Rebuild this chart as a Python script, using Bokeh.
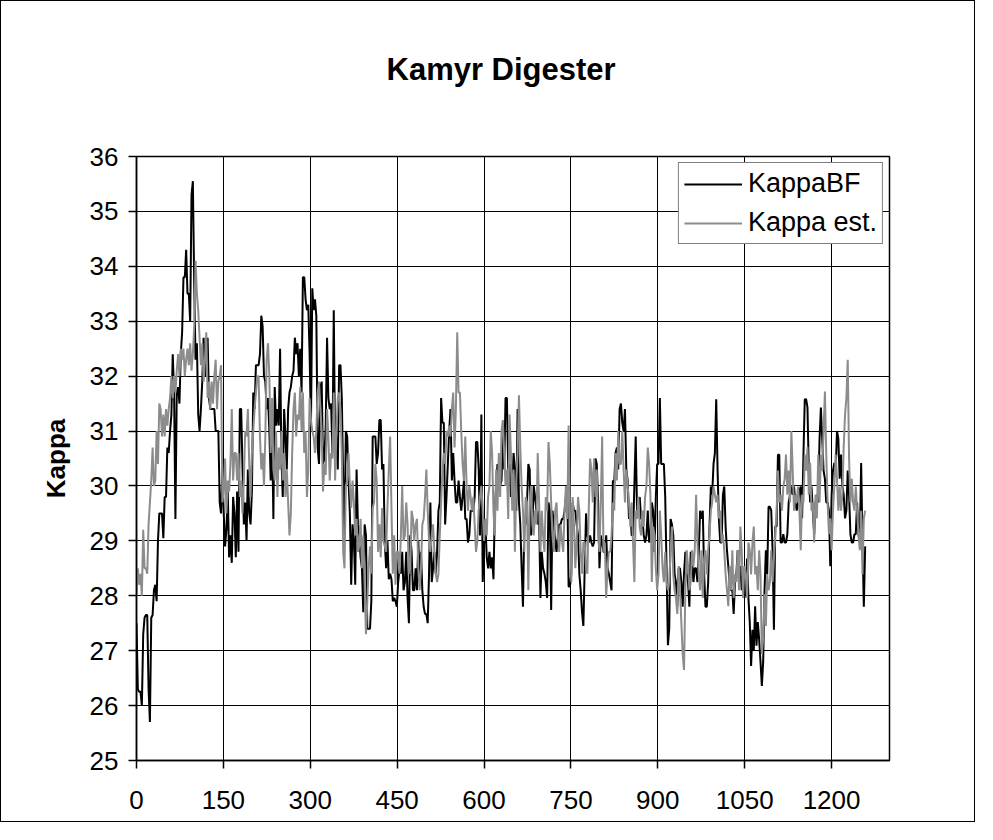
import numpy as np
from bokeh.plotting import figure
from bokeh.models import FixedTicker, Legend, LegendItem, Range1d, Title
from bokeh.embed import file_html
from bokeh.resources import INLINE

title_text = "Kamyr Digester"
y_label = "Kappa"
series_names = ["KappaBF", "Kappa est."]
x_ticks = [0, 150, 300, 450, 600, 750, 900, 1050, 1200]
y_ticks = [25, 26, 27, 28, 29, 30, 31, 32, 33, 34, 35, 36]
x_max = 1300
y_min, y_max = 25, 36
last_sample = 1258

kappa_bf = [
    # 0 - 147
    27.5, 26.3, 26.25, 26.25, 26.0, 27.3, 27.6, 27.65, 27.65, 26.3,
    25.7, 27.6, 27.65, 28.1, 28.2, 27.9, 29.0, 29.5, 29.5, 29.5,
    29.05, 29.8, 29.8, 30.7, 30.6, 31.0, 31.3, 32.4, 31.7, 29.4,
    31.7, 31.8, 31.5, 32.4, 32.8, 33.8, 33.8, 34.3, 33.5, 33.5,
    33.0, 35.3, 35.55, 33.7, 32.3, 32.6, 31.3, 31.0, 31.4, 31.9,
    32.7, 32.0, 32.3, 32.7, 31.6, 31.4, 31.4, 31.4, 31.4, 31.0,
    31.0, 31.0, 29.7, 29.5,
    # 150 - 300
    30.3, 29.5, 28.9, 29.2, 29.9, 28.7, 29.1, 28.6, 29.8, 29.5,
    28.7, 29.9, 28.8, 31.4, 31.4, 30.3, 29.3, 29.7, 29.0, 30.3,
    29.5, 29.3, 29.9, 31.7, 31.4, 32.2, 32.2, 32.2, 32.4, 33.1,
    32.9, 32.0, 31.9, 31.4, 31.6, 31.0, 30.1, 31.1, 29.4, 31.8,
    31.1, 31.4, 31.1, 32.5, 30.5, 29.8, 31.4, 30.9, 30.3, 31.4,
    31.7, 31.8, 32.0, 32.1, 32.7, 32.4, 32.6, 32.0, 32.5, 31.7,
    33.8, 33.8, 33.4, 33.2, 33.3, 32.4, 31.1,
    # 300 - 450
    33.6, 33.2, 33.4, 33.1, 30.7, 30.4, 31.8, 31.9, 30.4, 30.5,
    31.1, 32.7, 31.6, 31.4, 31.5, 30.6, 33.2, 30.6, 30.9, 30.3,
    32.2, 32.2, 31.6, 30.1, 29.1, 31.0, 30.9, 30.1, 29.5, 28.2,
    29.3, 29.0, 28.2, 30.3, 29.3, 29.1, 28.7, 28.5, 27.7, 29.3,
    29.1, 27.4, 27.4, 27.4, 27.9, 30.9, 30.9, 30.9, 30.4, 30.6,
    31.2, 31.2, 30.3, 30.4, 29.0, 28.5, 29.0, 28.3, 28.4, 28.3,
    27.9, 27.96, 27.9, 27.8,
    # 454 - 609
    28.25, 28.5, 28.4, 28.8, 28.1, 28.25, 28.8, 27.96, 27.5, 29.1,
    28.8, 28.1, 28.1, 28.5, 28.1, 29.0, 28.25, 28.8, 28.1, 27.8,
    27.67, 27.67, 27.5, 28.4, 29.7, 28.25, 28.5, 28.8, 28.4, 28.8,
    29.55, 29.7, 31.6, 31.15, 31.15, 29.3, 29.8, 30.4, 31.0, 31.4,
    30.1, 30.6, 30.1, 29.7, 29.7, 30.1, 29.8, 29.55, 29.8, 30.1,
    29.4, 29.4, 28.97, 29.1, 29.55, 29.55, 29.55, 29.8, 30.8, 30.8,
    30.3, 29.1, 31.3, 28.25, 28.97, 29.3, 28.7, 28.5,
    # 611 - 763
    28.8, 28.5, 28.7, 28.3, 29.55, 30.0, 30.4, 30.3, 30.0, 30.1,
    30.9, 30.3, 31.6, 31.6, 30.3, 30.4, 29.8, 30.0, 30.6, 30.3,
    29.55, 31.4, 29.7, 29.3, 28.5, 27.8, 29.3, 29.3, 29.7, 30.4,
    30.3, 29.1, 29.3, 30.0, 29.8, 29.55, 29.3, 29.55, 27.96, 28.8,
    28.5, 28.4, 28.25, 27.96, 29.7, 29.55, 27.74, 29.55, 29.3, 29.0,
    28.8, 29.1, 29.3, 29.3, 29.4, 29.4, 29.55, 29.8, 30.0, 28.17,
    28.17, 28.4, 29.7, 29.55, 29.55, 29.3, 29.1,
    # 767 - 922
    28.4, 28.1, 27.7, 27.45, 28.5, 29.5, 29.1, 28.97, 29.1, 28.97,
    28.9, 28.97, 30.5, 30.4, 29.7, 28.5, 29.1, 28.97, 28.8, 28.8,
    29.1, 28.5, 28.4, 28.25, 28.1, 30.1, 30.06, 30.6, 30.7, 30.3,
    31.4, 31.5, 31.15, 31.0, 31.4, 30.3, 30.1, 29.4, 29.55, 29.1,
    29.1, 30.0, 30.9, 29.55, 29.7, 29.8, 29.4, 29.4, 29.1, 28.97,
    29.1, 29.55, 28.97, 29.1, 29.7, 29.55, 28.8, 29.8, 30.4, 30.4,
    31.6, 30.4, 30.4, 30.4, 29.8, 28.5, 27.1, 27.4,
    # 922 - 1076
    29.4, 29.3, 29.1, 28.4, 28.25, 27.8, 28.5, 28.5, 28.25, 27.8,
    28.4, 28.8, 28.4, 28.25, 27.8, 28.8, 28.7, 28.25, 28.5, 28.5,
    28.25, 28.8, 29.55, 29.4, 29.55, 28.4, 27.8, 27.8, 28.25, 29.26,
    29.99, 29.84, 30.4, 30.6, 31.58, 30.3, 29.4, 28.97, 28.97, 29.84,
    29.99, 29.26, 28.83, 28.54, 28.25, 28.1, 28.1, 27.67, 28.25, 28.39,
    28.83, 28.39, 28.54, 28.1, 28.25, 27.96, 28.1, 28.68, 27.96, 27.52,
    26.72, 27.38, 27.01, 27.81, 27.09, 27.52, 27.2, 26.8,
    # 1081 - 1258
    26.36, 26.8, 28.1, 28.83, 28.39, 29.62, 29.62, 29.55, 28.83, 27.38,
    29.26, 29.26, 30.57, 30.57, 28.97, 28.97, 29.12, 28.97, 28.97, 29.12,
    29.7, 29.84, 29.99, 29.84, 29.99, 29.7, 29.55, 29.7, 29.91, 29.99,
    29.41, 30.57, 31.58, 31.58, 31.43, 30.28, 29.7, 29.99, 29.55, 29.12,
    29.7, 29.84, 29.7, 30.86, 31.43, 30.86, 30.28, 30.13, 29.7, 29.7,
    29.55, 28.54, 29.84, 30.28, 30.42, 30.28, 31.0, 30.86, 30.13, 30.57,
    29.99, 29.84, 29.41, 29.55, 30.28, 29.84, 29.12, 28.97, 28.97, 29.12,
    29.12, 29.7, 29.12, 28.97, 30.42, 29.0, 27.8, 28.9,
]

kappa_est = [
    # 0 - 147
    28.0, 28.5, 28.2, 28.4, 28.0, 29.2, 28.5, 28.5, 28.4, 29.3,
    29.7, 30.1, 30.7, 30.0, 30.1, 31.0, 30.4, 31.5, 31.4, 30.9,
    31.3, 30.9, 31.4, 31.1, 31.4, 31.6, 32.0, 31.6, 32.0, 31.7,
    32.1, 32.4, 32.0, 32.5, 32.3, 32.5, 32.0, 32.3, 32.5, 32.2,
    32.6, 32.1, 32.4, 32.9, 34.1, 33.5, 33.2, 32.7, 32.2, 32.6,
    31.9, 32.3, 32.8, 31.6, 31.9, 31.4, 31.9, 31.5, 32.0, 32.3,
    31.4, 31.9, 32.0, 32.2,
    # 150 - 300
    29.7, 29.9, 30.5, 29.5, 30.1, 29.9, 30.4, 31.4, 30.1, 30.6,
    30.6, 30.1, 30.6, 29.8, 30.1, 29.5, 30.1, 31.0, 30.9, 31.4,
    30.4, 29.8, 30.6, 31.0, 31.4, 31.7, 32.0, 32.0, 30.9, 30.3,
    30.6, 30.0, 30.9, 32.3, 32.6, 32.0, 30.6, 31.6, 30.3, 30.1,
    31.0, 29.8, 30.7, 30.3, 31.0, 30.1, 30.6, 29.8, 30.3, 29.7,
    29.1, 29.5, 30.6, 31.4, 31.7, 30.9, 31.3, 31.2, 31.8, 31.0,
    31.7, 30.6, 31.0, 29.8, 30.3, 31.6, 31.2,
    # 300 - 450
    31.0, 30.9, 30.6, 31.0, 31.7, 31.9, 31.4, 31.0, 29.9, 30.4,
    30.2, 31.4, 30.9, 30.1, 30.6, 30.5, 31.7, 30.1, 31.0, 31.6,
    31.7, 31.4, 30.6, 28.8, 28.5, 30.0, 30.1, 30.6, 30.0, 29.6,
    30.1, 29.7, 29.1, 29.4, 28.8, 28.9, 29.4, 28.5, 29.1, 28.2,
    27.3, 27.9, 28.5, 28.9, 28.4, 29.6, 29.7, 30.4, 30.1, 28.8,
    29.3, 28.7, 29.6, 29.0, 28.9, 28.8, 29.6, 30.3, 30.9, 29.6,
    28.4, 29.1, 28.2, 28.8,
    # 454 - 609
    28.8, 28.4, 29.1, 30.0, 29.0, 29.1, 29.7, 29.3, 28.4, 28.5,
    29.55, 29.4, 29.0, 29.3, 29.4, 28.5, 28.1, 28.5, 29.3, 29.4,
    29.8, 30.3, 29.55, 29.0, 28.8, 29.1, 29.3, 28.8, 28.4, 28.25,
    28.4, 29.1, 29.7, 30.3, 30.6, 30.4, 31.0, 30.9, 31.1, 30.9,
    31.4, 31.7, 30.7, 31.4, 32.8, 31.7, 31.7, 31.0, 30.4, 30.1,
    30.9, 30.0, 29.55, 30.0, 29.8, 29.55, 29.8, 29.3, 28.8, 29.0,
    29.55, 29.8, 30.0, 29.55, 29.0, 29.4, 29.1, 29.8,
    # 611 - 763
    30.0, 31.0, 30.6, 29.55, 29.1, 30.3, 29.55, 30.6, 29.8, 31.0,
    31.2, 30.6, 30.0, 30.3, 29.4, 31.3, 30.6, 29.55, 30.3, 28.8,
    30.1, 30.6, 31.65, 30.7, 30.0, 29.55, 28.8, 29.8, 29.7, 28.1,
    29.7, 30.0, 29.3, 29.1, 29.55, 29.3, 30.6, 29.7, 28.8, 29.55,
    29.1, 28.8, 29.8, 29.55, 30.8, 30.4, 29.7, 29.1, 28.8, 29.55,
    29.7, 29.1, 28.8, 29.3, 29.0, 28.8, 29.55, 30.0, 29.4, 31.1,
    29.55, 28.25, 29.8, 29.3, 28.5, 28.97, 29.8,
    # 767 - 922
    29.55, 28.8, 28.4, 28.97, 28.97, 28.5, 28.4, 29.55, 30.5, 30.3,
    29.7, 30.5, 29.8, 30.3, 29.1, 28.8, 29.7, 30.9, 28.8, 28.97,
    27.96, 28.5, 28.8, 28.8, 29.1, 29.7, 29.55, 30.6, 30.1, 31.0,
    30.4, 30.4, 31.0, 30.3, 29.7, 30.3, 30.0, 29.7, 29.26, 29.7,
    28.97, 28.25, 29.55, 29.4, 29.8, 29.26, 29.1, 29.55, 29.26, 29.8,
    30.0, 30.7, 30.4, 29.8, 28.25, 29.26, 29.1, 28.5, 28.1, 28.4,
    29.55, 29.1, 28.5, 28.25, 28.8, 28.25, 28.1, 28.25,
    # 922 - 1076
    28.83, 29.26, 28.39, 28.1, 27.96, 27.67, 28.54, 28.1, 27.52, 26.94,
    26.65, 28.1, 28.83, 28.54, 28.1, 28.25, 28.83, 28.54, 28.83, 29.84,
    28.97, 28.39, 28.1, 28.83, 27.96, 28.68, 28.83, 28.39, 28.83, 29.12,
    29.55, 29.7, 29.99, 29.84, 29.7, 29.84, 29.41, 29.55, 28.97, 29.12,
    28.83, 28.39, 28.1, 27.81, 28.54, 28.1, 28.83, 27.96, 28.39, 28.25,
    28.83, 28.1, 29.26, 28.83, 27.96, 28.54, 28.39, 27.96, 28.97, 28.83,
    28.39, 28.97, 29.26, 28.39, 28.54, 28.1, 28.83, 28.39,
    # 1081 - 1258
    26.94, 27.23, 28.03, 27.45, 28.39, 28.1, 28.25, 28.83, 28.25, 28.68,
    29.12, 29.55, 30.28, 29.7, 29.84, 29.55, 29.99, 30.13, 30.57, 29.84,
    30.28, 29.7, 31.0, 30.28, 29.55, 29.84, 29.7, 29.99, 29.55, 28.83,
    29.84, 29.7, 30.57, 30.28, 30.71, 29.84, 30.42, 29.55, 29.7, 28.97,
    29.84, 29.41, 30.57, 29.7, 30.57, 30.28, 31.0, 31.72, 30.57, 29.7,
    29.12, 29.41, 28.83, 29.55, 29.99, 30.57, 30.13, 29.55, 29.99, 29.55,
    29.84, 30.71, 31.3, 31.6, 32.3, 30.5, 29.7, 30.13, 29.7, 29.55,
    29.99, 29.55, 29.12, 28.83, 29.55, 28.39, 29.41, 29.55,
]

# sample index of each reading (evenly spaced samples from 0 to the last one)
t_bf = np.linspace(0, last_sample, len(kappa_bf))
t_est = np.linspace(0, last_sample, len(kappa_est))

FONT = "Liberation Sans"

p = figure(width=975, height=822,
           x_range=Range1d(0, x_max), y_range=Range1d(y_min, y_max),
           output_backend="svg", toolbar_location=None, title_location=None,
           min_border_left=135, min_border_right=87,
           min_border_top=155, min_border_bottom=63,
           background_fill_color="white", border_fill_color="white")
p.styles = {"border": "1px solid black"}

# blank spacer between the frame and the title, then the title itself
spacer = Title(text=" ", text_font=FONT, text_font_size="48px")
p.add_layout(spacer, "above")
main_title = Title(text=title_text, text_font=FONT, text_font_size="31px",
                   text_font_style="bold", text_color="black",
                   align="left", offset=250)
p.add_layout(main_title, "above")

p.outline_line_color = "black"
p.outline_line_width = 1.5
p.outline_line_alpha = 1

p.xaxis.ticker = FixedTicker(ticks=x_ticks)
p.yaxis.ticker = FixedTicker(ticks=y_ticks)
for ax in (p.xaxis[0], p.yaxis[0]):
    ax.axis_line_color = "black"
    ax.axis_line_width = 1.5
    ax.major_tick_line_color = "black"
    ax.major_tick_line_width = 1.5
    ax.major_tick_in = 0
    ax.major_tick_out = 8
    ax.minor_tick_line_color = None
    ax.major_label_text_font = FONT
    ax.major_label_text_font_size = "26px"
    ax.major_label_text_color = "black"
p.xaxis.major_label_standoff = 22
p.yaxis.major_label_standoff = 10
p.yaxis.axis_label = y_label
p.yaxis.axis_label_text_font = FONT
p.yaxis.axis_label_text_font_size = "26px"
p.yaxis.axis_label_text_font_style = "bold"
p.yaxis.axis_label_text_color = "black"
p.yaxis.axis_label_standoff = 16

p.grid.grid_line_color = "black"
p.grid.grid_line_width = 1
p.grid.grid_line_alpha = 1

r_bf = p.line(t_bf, kappa_bf, line_color="black", line_width=2)
r_est = p.line(t_est, kappa_est, line_color="#8c8c8c", line_width=2)

legend = Legend(items=[LegendItem(label=series_names[0], renderers=[r_bf]),
                       LegendItem(label=series_names[1], renderers=[r_est])],
                location="top_right", margin=6, padding=5, spacing=8,
                glyph_width=58, glyph_height=20, label_standoff=6,
                label_text_font=FONT, label_text_font_size="27px",
                label_text_color="black",
                border_line_color="black", border_line_width=1.5,
                background_fill_color="white", background_fill_alpha=1)
p.add_layout(legend)

open("out.html", "w").write(file_html(p, INLINE))
